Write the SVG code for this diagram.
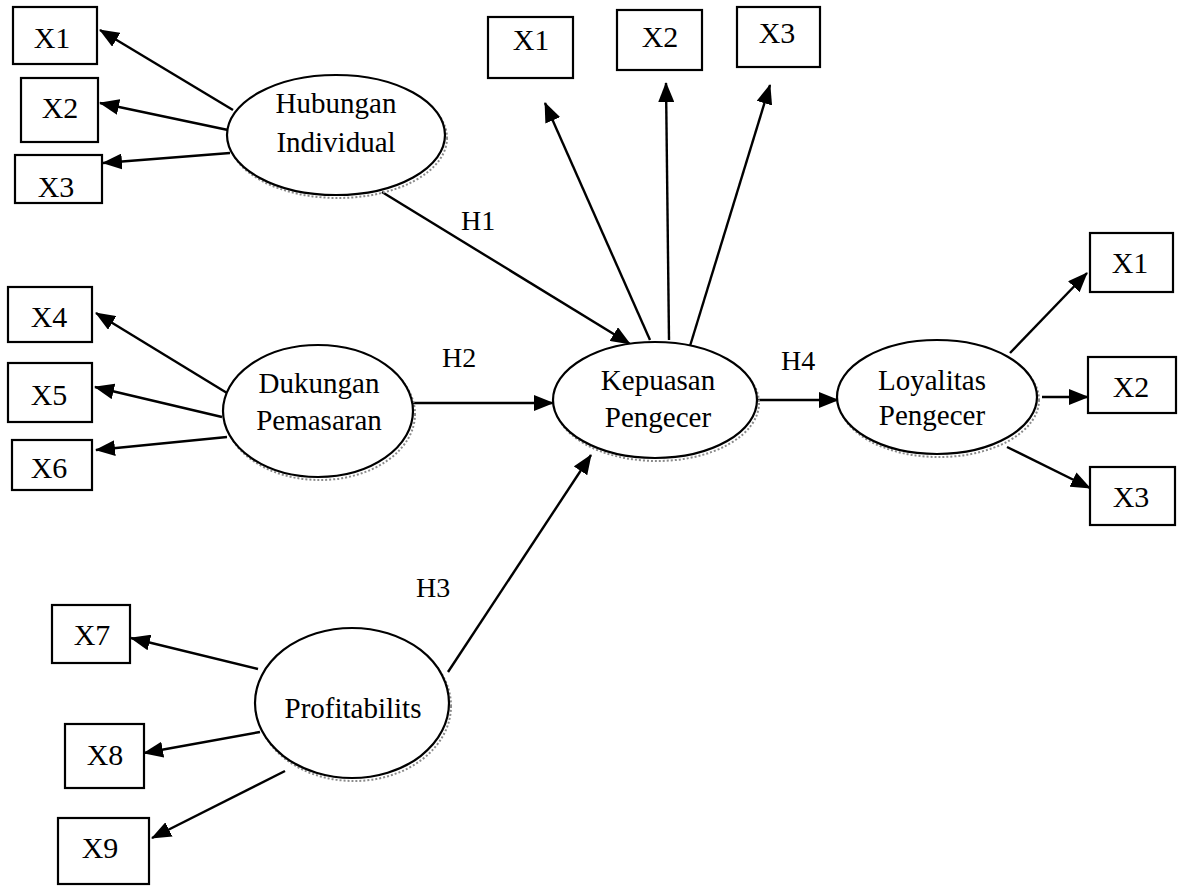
<svg xmlns="http://www.w3.org/2000/svg" width="1178" height="886" viewBox="0 0 1178 886">
  <style>
    .box { fill: #fff; stroke: #000; stroke-width: 2.2; }
    .lat { fill: #fff; stroke: #000; stroke-width: 2.2; }
    .shade { fill: none; stroke: #8a8a8a; stroke-width: 2; stroke-dasharray: 2 2; }
    .lbl { font-family: "Liberation Serif", "Times New Roman", serif; font-size: 30px; fill: #000; text-anchor: middle; }
    .name { font-family: "Liberation Serif", "Times New Roman", serif; font-size: 29px; fill: #000; text-anchor: middle; }
    .hyp { font-family: "Liberation Serif", "Times New Roman", serif; font-size: 28px; fill: #000; }
    .edge { stroke: #000; stroke-width: 2.4; fill: none; marker-end: url(#arrow); }
  </style>
  <defs>
    <marker id="arrow" markerUnits="userSpaceOnUse" markerWidth="20" markerHeight="16" refX="19" refY="8" orient="auto">
      <path d="M0,0 L20,8 L0,16 z" fill="#000"/>
    </marker>
  </defs>
  <rect width="1178" height="886" fill="#fff"/>

  <!-- connectors -->
  <g id="connectors">
    <!-- Hubungan Individual indicators -->
    <line class="edge" x1="233" y1="110" x2="100" y2="30"/>
    <line class="edge" x1="228" y1="130" x2="100" y2="103"/>
    <line class="edge" x1="230" y1="153" x2="103" y2="163"/>
    <!-- Dukungan Pemasaran indicators -->
    <line class="edge" x1="227" y1="393" x2="96" y2="313"/>
    <line class="edge" x1="222" y1="417" x2="95" y2="387"/>
    <line class="edge" x1="227" y1="437" x2="96" y2="450"/>
    <!-- Profitabilits indicators -->
    <line class="edge" x1="258" y1="669" x2="131" y2="638"/>
    <line class="edge" x1="260" y1="732" x2="144" y2="753"/>
    <line class="edge" x1="285" y1="771" x2="152" y2="838"/>
    <!-- Kepuasan Pengecer indicators -->
    <line class="edge" x1="650" y1="340" x2="545" y2="103"/>
    <line class="edge" x1="669" y1="340" x2="666" y2="83"/>
    <line class="edge" x1="690" y1="346" x2="770" y2="85"/>
    <!-- Loyalitas Pengecer indicators -->
    <line class="edge" x1="1010" y1="353" x2="1087" y2="273"/>
    <line class="edge" x1="1042" y1="397" x2="1088" y2="397"/>
    <line class="edge" x1="1007" y1="447" x2="1090" y2="488"/>
    <!-- structural paths -->
    <line class="edge" x1="382" y1="192" x2="630" y2="344"/>
    <line class="edge" x1="413" y1="403" x2="553" y2="403"/>
    <line class="edge" x1="448" y1="672" x2="591" y2="455"/>
    <line class="edge" x1="757" y1="400" x2="838" y2="400"/>
    <!-- path labels -->
    <text class="hyp" x="461" y="230">H1</text>
    <text class="hyp" x="442" y="367">H2</text>
    <text class="hyp" x="416" y="597">H3</text>
    <text class="hyp" x="781" y="370">H4</text>
  </g>

  <!-- latent constructs -->
  <g id="hubungan-individual">
    <ellipse class="shade" cx="338" cy="138" rx="109" ry="60"/>
    <ellipse class="lat" cx="336" cy="135" rx="109" ry="60"/>
    <text class="name" x="336" y="113">Hubungan</text>
    <text class="name" x="336" y="152">Individual</text>
  </g>
  <g id="dukungan-pemasaran">
    <ellipse class="shade" cx="320" cy="414" rx="95" ry="66"/>
    <ellipse class="lat" cx="318" cy="411" rx="95" ry="66"/>
    <text class="name" x="319" y="393">Dukungan</text>
    <text class="name" x="319" y="430">Pemasaran</text>
  </g>
  <g id="kepuasan-pengecer">
    <ellipse class="shade" cx="657" cy="403" rx="102" ry="58"/>
    <ellipse class="lat" cx="655" cy="400" rx="102" ry="58"/>
    <text class="name" x="658" y="390">Kepuasan</text>
    <text class="name" x="658" y="427">Pengecer</text>
  </g>
  <g id="loyalitas-pengecer">
    <ellipse class="shade" cx="939" cy="400" rx="100" ry="57"/>
    <ellipse class="lat" cx="937" cy="397" rx="100" ry="57"/>
    <text class="name" x="932" y="390">Loyalitas</text>
    <text class="name" x="932" y="425">Pengecer</text>
  </g>
  <g id="profitabilits">
    <ellipse class="shade" cx="354" cy="706" rx="97" ry="75"/>
    <ellipse class="lat" cx="352" cy="703" rx="97" ry="75"/>
    <text class="name" x="353" y="718">Profitabilits</text>
  </g>

  <!-- indicators -->
  <g id="hi-x1"><rect class="box" x="13" y="7" width="84" height="57"/><text class="lbl" x="52" y="48">X1</text></g>
  <g id="hi-x2"><rect class="box" x="21" y="78" width="77" height="64"/><text class="lbl" x="60" y="118">X2</text></g>
  <g id="hi-x3"><rect class="box" x="15" y="155" width="87" height="48"/><text class="lbl" x="56" y="197">X3</text></g>

  <g id="dp-x4"><rect class="box" x="8" y="287" width="84" height="55"/><text class="lbl" x="49" y="327">X4</text></g>
  <g id="dp-x5"><rect class="box" x="8" y="363" width="84" height="59"/><text class="lbl" x="49" y="405">X5</text></g>
  <g id="dp-x6"><rect class="box" x="12" y="440" width="80" height="50"/><text class="lbl" x="49" y="478">X6</text></g>

  <g id="pr-x7"><rect class="box" x="52" y="605" width="78" height="58"/><text class="lbl" x="92" y="645">X7</text></g>
  <g id="pr-x8"><rect class="box" x="65" y="724" width="79" height="64"/><text class="lbl" x="105" y="765">X8</text></g>
  <g id="pr-x9"><rect class="box" x="58" y="818" width="91" height="66"/><text class="lbl" x="100" y="858">X9</text></g>

  <g id="kp-x1"><rect class="box" x="488" y="17" width="85" height="61"/><text class="lbl" x="531" y="50">X1</text></g>
  <g id="kp-x2"><rect class="box" x="617" y="10" width="85" height="60"/><text class="lbl" x="660" y="47">X2</text></g>
  <g id="kp-x3"><rect class="box" x="737" y="7" width="83" height="60"/><text class="lbl" x="777" y="43">X3</text></g>

  <g id="lp-x1"><rect class="box" x="1090" y="233" width="83" height="59"/><text class="lbl" x="1130" y="273">X1</text></g>
  <g id="lp-x2"><rect class="box" x="1088" y="357" width="88" height="56"/><text class="lbl" x="1131" y="397">X2</text></g>
  <g id="lp-x3"><rect class="box" x="1090" y="467" width="85" height="58"/><text class="lbl" x="1131" y="507">X3</text></g>
</svg>
